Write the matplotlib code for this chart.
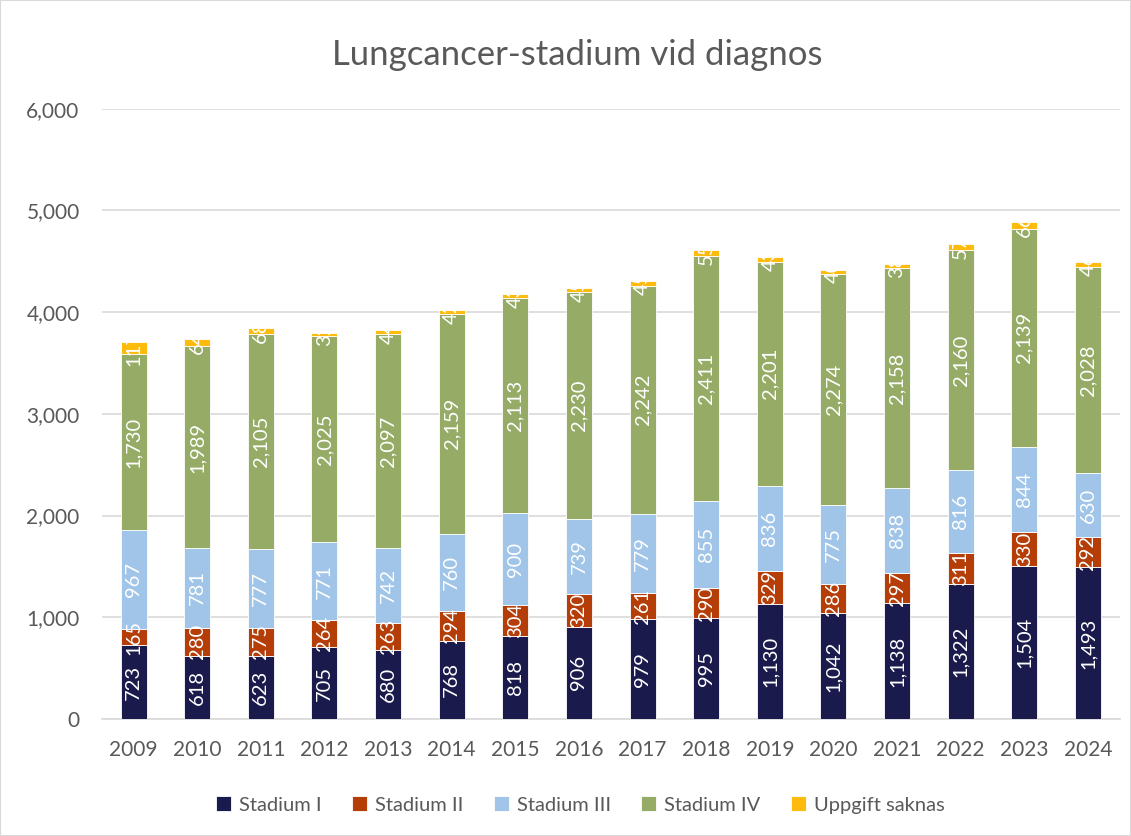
import numpy as np
import matplotlib.pyplot as plt
from matplotlib.patches import Rectangle

plt.rcParams['font.family'] = ['Lato', 'DejaVu Sans']

years = ['2009', '2010', '2011', '2012', '2013', '2014', '2015', '2016',
         '2017', '2018', '2019', '2020', '2021', '2022', '2023', '2024']
stadium_1 = [723, 618, 623, 705, 680, 768, 818, 906, 979, 995, 1130, 1042, 1138, 1322, 1504, 1493]
stadium_2 = [165, 280, 275, 264, 263, 294, 304, 320, 261, 290, 329, 286, 297, 311, 330, 292]
stadium_3 = [967, 781, 777, 771, 742, 760, 900, 739, 779, 855, 836, 775, 838, 816, 844, 630]
stadium_4 = [1730, 1989, 2105, 2025, 2097, 2159, 2113, 2230, 2242, 2411, 2201, 2274, 2158, 2160, 2139, 2028]
saknas = [117, 64, 68, 32, 44, 42, 43, 45, 45, 55, 43, 40, 38, 57, 66, 46]

series = [
    ('Stadium I', stadium_1, '#1b1a4c'),
    ('Stadium II', stadium_2, '#b53d07'),
    ('Stadium III', stadium_3, '#a0c5e8'),
    ('Stadium IV', stadium_4, '#95ab66'),
    ('Uppgift saknas', saknas, '#fdbb0d'),
]

grey = '#595959'
fig = plt.figure(figsize=(11.31, 8.36), dpi=100)
ax = fig.add_axes([0.09, 0.14, 0.9, 0.73])

x = np.arange(len(years))
width = 0.41
bottom = np.zeros(len(years))
totals = np.sum([s[1] for s in series], axis=0)

for name, vals, col in series:
    vals = np.array(vals, dtype=float)
    ax.bar(x, vals, width, bottom=bottom, color=col, edgecolor='white',
           linewidth=0.6, label=name, zorder=3)
    for i, v in enumerate(vals):
        t = ax.text(x[i], bottom[i] + v / 2, f'{int(v):,}', rotation=90,
                    ha='center', va='center', color='white', fontsize=14.5, zorder=4)
        # labels that spill past the top of a column get cut off there
        clip = Rectangle((x[i] - width / 2, 0), width, totals[i], transform=ax.transData)
        t.set_clip_path(clip)
    bottom += vals

ax.set_ylim(0, 6000)
ax.set_xlim(-0.5, len(years) - 0.5)
ax.set_yticks(np.arange(0, 6001, 1000))
ax.yaxis.set_major_formatter(plt.FuncFormatter(lambda v, p: f'{int(v):,}'))
ax.set_xticks(x)
ax.set_xticklabels(years)
ax.tick_params(axis='both', length=0, labelsize=15, labelcolor=grey)
ax.tick_params(axis='y', pad=16)
ax.tick_params(axis='x', pad=15)
ax.grid(axis='y', color='#d9d9d9', linewidth=1.2, zorder=0)
for s in ['top', 'right', 'left']:
    ax.spines[s].set_visible(False)
ax.spines['bottom'].set_color('#d9d9d9')
ax.spines['bottom'].set_linewidth(1.2)

fig.text(0.51, 0.934, 'Lungcancer-stadium vid diagnos', ha='center', va='center',
         fontsize=25, color=grey)

ax.legend(loc='center', bbox_to_anchor=(0.47, -0.141), ncol=5, frameon=False,
          fontsize=14.5, labelcolor=grey, handlelength=0.75, handleheight=0.75,
          handletextpad=0.4, columnspacing=1.5)

fig.patches.append(Rectangle((0, 0), 1, 1, transform=fig.transFigure,
                             fill=False, edgecolor='#d9d9d9', linewidth=1.5))
fig.savefig('out.png', dpi=100)
